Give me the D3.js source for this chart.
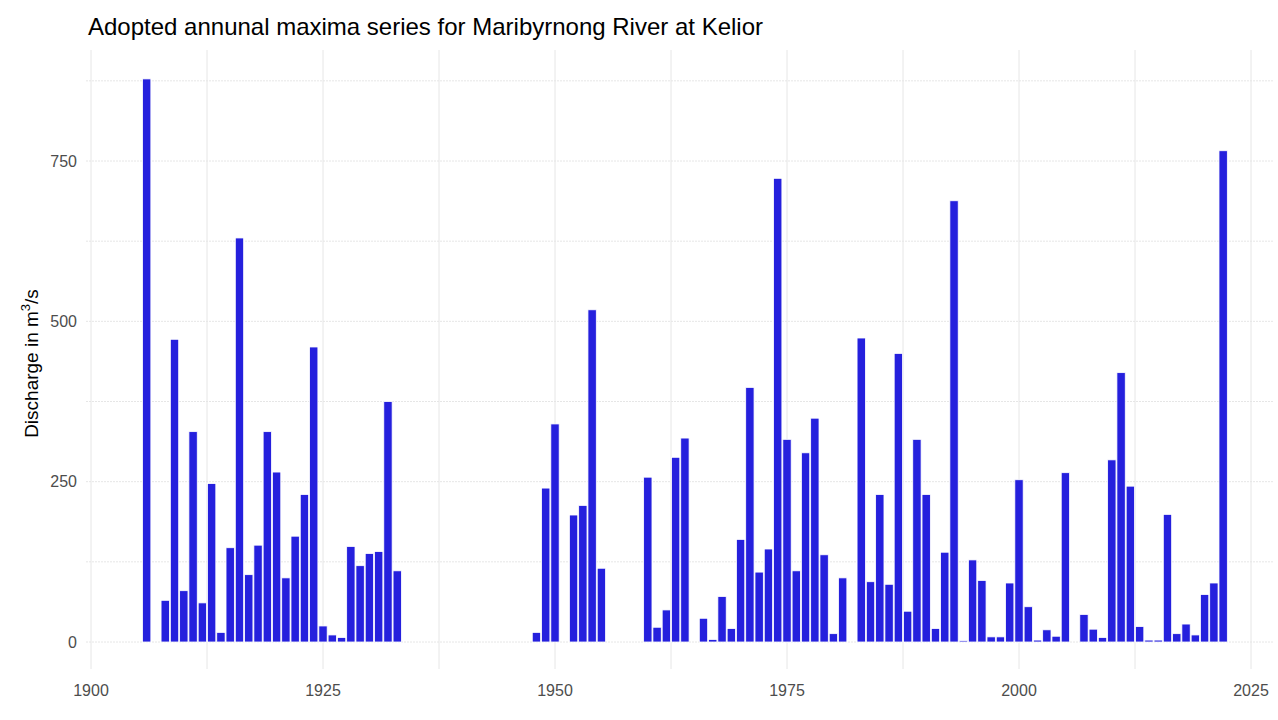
<!DOCTYPE html>
<html>
<head>
<meta charset="utf-8">
<title>Adopted annual maxima series</title>
<script src="https://d3js.org/d3.v7.min.js"></script>
<style>
  body { margin: 0; background: #fff; }
  svg { font-family: "Liberation Sans", Arial, sans-serif; }
  .grid line { stroke: #e6e6e6; stroke-width: 1; }
  .tick-label { fill: #4d4d4d; font-size: 16px; }
</style>
</head>
<body>
<svg width="1278" height="720"></svg>
<script>
// annual maxima (m3/s)
const years = [
  1906, 1908, 1909, 1910, 1911, 1912, 1913, 1914, 1915, 1916, 1917, 1918, 1919,
  1920, 1921, 1922, 1923, 1924, 1925, 1926, 1927, 1928, 1929, 1930, 1931, 1932, 1933,
  1948, 1949, 1950, 1952, 1953, 1954, 1955,
  1960, 1961, 1962, 1963, 1964, 1966, 1967, 1968, 1969,
  1970, 1971, 1972, 1973, 1974, 1975, 1976, 1977, 1978, 1979,
  1980, 1981, 1983, 1984, 1985, 1986, 1987, 1988, 1989,
  1990, 1991, 1992, 1993, 1994, 1995, 1996, 1997, 1998, 1999,
  2000, 2001, 2002, 2003, 2004, 2005, 2007, 2008, 2009,
  2010, 2011, 2012, 2013, 2014, 2015, 2016, 2017, 2018, 2019,
  2020, 2021, 2022
];
const discharge = [
  878, 65, 472, 80, 328, 61, 247, 15, 147, 630, 105, 151, 328,
  265, 100, 165, 230, 460, 25, 11, 7, 149, 119, 138, 141, 375, 111,
  15, 240, 340, 198, 213, 518, 115,
  257, 23, 50, 288, 318, 37, 4, 71, 21,
  160, 397, 109, 145, 723, 316, 111, 295, 349, 136,
  13, 100, 474, 94, 230, 90, 450, 48, 316,
  230, 21, 140, 688, 2, 128, 96, 8, 8, 92,
  253, 55, 3, 19, 9, 264, 43, 20, 7,
  284, 420, 243, 24, 3, 3, 199, 13, 28, 11,
  74, 92, 766
];
const xBreaks = [1900, 1925, 1950, 1975, 2000, 2025];
const xMinor = [1912.5, 1937.5, 1962.5, 1987.5, 2012.5];
const yBreaks = [0, 250, 500, 750];
const yMinor = [125, 375, 625, 875];

const data = years.map((y, i) => ({ year: y, value: discharge[i] }));

const svg = d3.select("svg");
const panel = { left: 86, right: 1273, top: 50, bottom: 669 };

const x = d3.scaleLinear().domain([1900, 2025]).range([91, 1251]);
const y = d3.scaleLinear().domain([0, 750]).range([642, 161]);

// grid
const grid = svg.append("g").attr("class", "grid");
grid.selectAll(".vx")
  .data(xBreaks.concat(xMinor))
  .join("line")
  .attr("x1", d => x(d)).attr("x2", d => x(d))
  .attr("y1", panel.top).attr("y2", panel.bottom);
grid.selectAll(".hy")
  .data(yBreaks.concat(yMinor))
  .join("line")
  .attr("x1", panel.left).attr("x2", panel.right)
  .attr("y1", d => y(d)).attr("y2", d => y(d))
  .attr("stroke-dasharray", "2,1");

// bars
const bw = x(1900.9) - x(1900);
svg.append("g")
  .selectAll("rect")
  .data(data)
  .join("rect")
  .attr("x", d => x(d.year) - bw / 2)
  .attr("width", bw)
  .attr("y", d => y(d.value))
  .attr("height", d => y(0) - y(d.value))
  .attr("fill", "#2520dd")
  .attr("stroke", "#ffffff")
  .attr("stroke-width", 0.8);

// tick labels
svg.append("g").selectAll("text")
  .data(xBreaks)
  .join("text")
  .attr("class", "tick-label")
  .attr("x", d => x(d))
  .attr("y", 696)
  .attr("text-anchor", "middle")
  .text(d => d);

svg.append("g").selectAll("text")
  .data(yBreaks)
  .join("text")
  .attr("class", "tick-label")
  .attr("x", 77)
  .attr("y", d => y(d))
  .attr("dy", "0.35em")
  .attr("text-anchor", "end")
  .text(d => d);

// axis title
const yl = svg.append("text")
  .attr("transform", "translate(38," + ((panel.top + panel.bottom) / 2 + 4) + ") rotate(-90)")
  .attr("text-anchor", "middle")
  .attr("font-size", "19px")
  .attr("fill", "#000");
yl.append("tspan").text("Discharge in m");
yl.append("tspan").attr("font-size", "13px").attr("dy", "-0.65em").text("3");
yl.append("tspan").attr("font-size", "19px").attr("dy", "0.45em").text("/s");

// title
svg.append("text")
  .attr("x", 88)
  .attr("y", 35)
  .attr("font-size", "24px")
  .attr("fill", "#000")
  .text("Adopted annunal maxima series for Maribyrnong River at Kelior");
</script>
</body>
</html>
